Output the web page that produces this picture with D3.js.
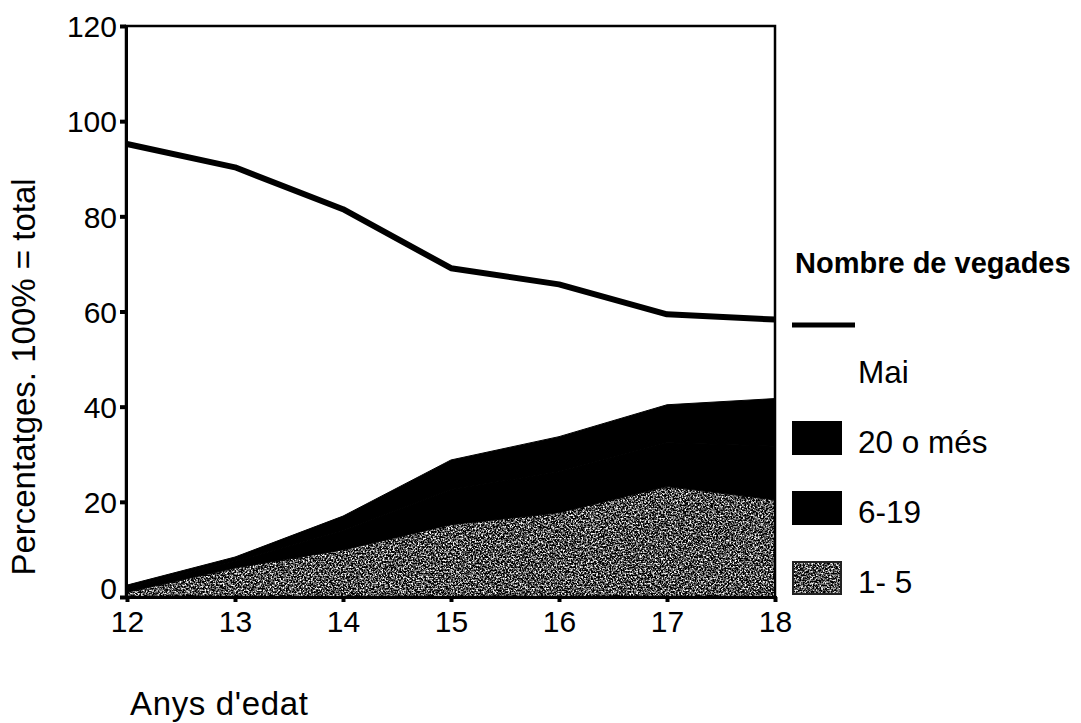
<!DOCTYPE html>
<html>
<head>
<meta charset="utf-8">
<title>Nombre de vegades</title>
<style type="text/css">
body { margin: 0; background: #fff; }
svg { display: block; font-family: "Liberation Sans", Arial, sans-serif; }
.tick text { font-size: 30px; fill: #000; }
.axis-title { font-size: 33px; }
.legend-title { font-size: 29px; font-weight: bold; }
.legend-label { font-size: 31.5px; }
</style>
</head>
<body>
<div id="chart"></div>
<script src="https://d3js.org/d3.v7.min.js"></script>
<script type="text/javascript">

// ages on the x axis
var ages = [12, 13, 14, 15, 16, 17, 18];

// "Mai" line (percent)
var mai = [95.2, 90.3, 81.5, 69.1, 65.7, 59.4, 58.3];

// stacked areas (percent)
var vegades1a5 = [1.0, 6.1, 9.9, 15.2, 17.7, 23.2, 20.4];
var vegades6a19 = [1.0, 1.4, 4.0, 7.4, 8.6, 9.2, 11.3];
var vegades20mes = [0.5, 0.9, 3.1, 6.2, 7.4, 8.0, 10.0];

var yTicks = [0, 20, 40, 60, 80, 100, 120];
var legendLabels = ["20 o més", "6-19", "1- 5"];

var width = 1081,
    height = 723;

var plot = {left: 126, right: 775, top: 26, bottom: 597};

var svg = d3.select("#chart")
    .append("svg")
    .attr("width", width)
    .attr("height", height);

// grainy grey like the scanned halftone
var defs = svg.append("defs");
var grain = defs.append("filter")
    .attr("id", "grain")
    .attr("color-interpolation-filters", "sRGB")
    .attr("x", 0).attr("y", 0).attr("width", 1).attr("height", 1);
grain.append("feTurbulence")
    .attr("type", "fractalNoise")
    .attr("baseFrequency", 0.6)
    .attr("numOctaves", 4)
    .attr("seed", 7)
    .attr("result", "noise");
grain.append("feColorMatrix")
    .attr("in", "noise")
    .attr("type", "matrix")
    .attr("values", "3 0 0 0 -1.2  3 0 0 0 -1.2  3 0 0 0 -1.2  0 0 0 0 1")
    .attr("result", "grey");
grain.append("feComposite")
    .attr("in", "grey")
    .attr("in2", "SourceGraphic")
    .attr("operator", "in");

var x = d3.scaleLinear()
    .domain([12, 18])
    .range([plot.left + 1, plot.right]);

var y = d3.scaleLinear()
    .domain([0, 120])
    .range([plot.bottom, plot.top]);

// build rows for d3.stack
var rows = ages.map(function(a, i) {
  return {age: a, v1: vegades1a5[i], v2: vegades6a19[i], v3: vegades20mes[i]};
});

var stack = d3.stack().keys(["v1", "v2", "v3"]);
var series = stack(rows);

var area = d3.area()
    .x(function(d) { return x(d.data.age); })
    .y0(function(d) { return y(d[0]); })
    .y1(function(d) { return y(d[1]); });

// black layers get a thin stroke so no seams show between them
svg.append("g")
    .selectAll("path")
    .data(series)
    .join("path")
    .attr("d", area)
    .attr("fill", function(d, i) { return i === 0 ? "#666" : "#000"; })
    .attr("stroke", function(d, i) { return i === 0 ? "none" : "#000"; })
    .attr("stroke-width", 1)
    .attr("filter", function(d, i) { return i === 0 ? "url(#grain)" : null; });

// Mai line
var line = d3.line()
    .x(function(d, i) { return x(ages[i]); })
    .y(function(d) { return y(d); });

svg.append("path")
    .datum(mai)
    .attr("d", line)
    .attr("fill", "none")
    .attr("stroke", "#000")
    .attr("stroke-width", 6)
    .attr("stroke-linejoin", "round");

// frame
svg.append("rect")
    .attr("x", plot.left)
    .attr("y", plot.top)
    .attr("width", plot.right - plot.left)
    .attr("height", plot.bottom - plot.top)
    .attr("fill", "none")
    .attr("stroke", "#000")
    .attr("stroke-width", 2.5);

// axes
var yAxis = svg.append("g")
    .attr("transform", "translate(" + plot.left + ",0)")
    .call(d3.axisLeft(y).tickValues(yTicks).tickSize(6).tickPadding(3));

var xAxis = svg.append("g")
    .attr("transform", "translate(0," + plot.bottom + ")")
    .call(d3.axisBottom(x).tickValues(ages).tickFormat(d3.format("d")).tickSize(5).tickPadding(9));

[yAxis, xAxis].forEach(function(g) {
  g.select(".domain").attr("stroke-width", 3);
  g.selectAll(".tick line").attr("stroke-width", 4);
  g.selectAll(".tick text").attr("font-family", null).attr("font-size", null);
});
yAxis.selectAll(".tick text").attr("dy", "0.36em");
// the 0 label sits a bit higher, clear of the 12
yAxis.selectAll(".tick text").filter(function(d) { return d === 0; })
    .attr("y", -9);

// axis titles
svg.append("text")
    .attr("class", "axis-title")
    .attr("transform", "translate(35,377) rotate(-90)")
    .attr("text-anchor", "middle")
    .text("Percentatges. 100% = total");

svg.append("text")
    .attr("class", "axis-title")
    .attr("x", 130)
    .attr("y", 715)
    .attr("textLength", 178)
    .text("Anys d'edat");

// legend
var legend = svg.append("g");

legend.append("text")
    .attr("class", "legend-title")
    .attr("x", 795)
    .attr("y", 273)
    .text("Nombre de vegades");

legend.append("line")
    .attr("x1", 792).attr("x2", 855)
    .attr("y1", 325).attr("y2", 325)
    .attr("stroke", "#000")
    .attr("stroke-width", 5);

legend.append("text")
    .attr("class", "legend-label")
    .attr("x", 858)
    .attr("y", 383)
    .text("Mai");

var legendFills = ["#000", "#000", "#666"];

var item = legend.selectAll("g.item")
    .data(legendLabels)
    .join("g")
    .attr("class", "item")
    .attr("transform", function(d, i) { return "translate(0," + (i * 70) + ")"; });

item.append("rect")
    .attr("x", 792)
    .attr("y", 421)
    .attr("width", 50)
    .attr("height", 34)
    .attr("fill", function(d, i) { return legendFills[i]; })
    .attr("filter", function(d, i) { return i === 2 ? "url(#grain)" : null; });

item.filter(function(d, i) { return i === 2; })
    .append("rect")
    .attr("x", 793)
    .attr("y", 422)
    .attr("width", 48)
    .attr("height", 32)
    .attr("fill", "none")
    .attr("stroke", "#222")
    .attr("stroke-width", 2);

item.append("text")
    .attr("class", "legend-label")
    .attr("x", 858)
    .attr("y", 453)
    .text(function(d) { return d; });

</script>
</body>
</html>
